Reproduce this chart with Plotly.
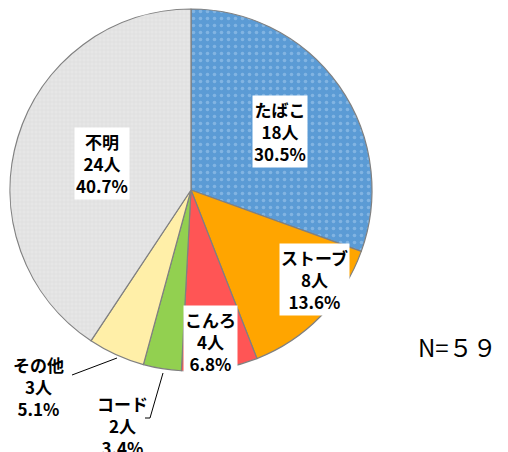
import plotly.graph_objects as go

categories = ["たばこ", "ストーブ", "こんろ", "コード", "その他", "不明"]
counts = [18, 8, 4, 2, 3, 24]
colors = ["#5B9BD5", "#FFA500", "#FF5555", "#92D050", "#FFEFA8", "#E6E6E6"]
total_label = "N=５９"

W, H = 508, 452
OFF = 8  # page body margin offset
total = sum(counts)
pcts = [c / total * 100 for c in counts]
texts = [f"{n}<br>{c}人<br>{p:.1f}%" for n, c, p in zip(categories, counts, pcts)]


def px(x):
    return (x - OFF) / W


def py(y):
    return 1 - (y - OFF) / H


fig = go.Figure(go.Pie(
    labels=categories,
    values=counts,
    sort=False,
    direction="clockwise",
    rotation=0,
    textinfo="none",
    hoverinfo="label+value+percent",
    marker=dict(
        colors=colors,
        line=dict(color="#808080", width=1.2),
        pattern=dict(
            shape=[".", "", "", "", "", "+"],
            fillmode="overlay",
            fgcolor=["#A9CDF0", "#FFA500", "#FF5555", "#92D050", "#FFEFA8", "#D4D4D4"],
            size=[7, 8, 8, 8, 8, 4],
            solidity=[0.2, 0.1, 0.1, 0.1, 0.1, 0.3],
        ),
    ),
    domain=dict(x=[2 / W, 364 / W], y=[(H - 363) / H, (H - 1) / H]),
    showlegend=False,
))

# label centers in reference pixels (measured)
label_pos = [(280, 132), (314, 279), (210, 341), (122, 425), (38, 386), (102, 163)]
inside = [True, True, True, False, False, True]
annotations = []
for t, (x, y), ins in zip(texts, label_pos, inside):
    annotations.append(dict(
        x=px(x), y=py(y), xref="paper", yref="paper",
        text=t, showarrow=False,
        font=dict(family="Noto Sans CJK JP", size=17, color="#000000", weight=600),
        bgcolor="#FFFFFF" if ins else "rgba(0,0,0,0)",
        borderpad=1,
        xanchor="center", yanchor="middle",
    ))
annotations.append(dict(
    x=px(416), y=py(346), xref="paper", yref="paper",
    text=total_label, showarrow=False,
    font=dict(family="Noto Sans CJK JP", size=24, color="#000000"),
    xanchor="left", yanchor="middle",
))

shapes = [
    dict(type="line", xref="paper", yref="paper",
         x0=px(72), y0=py(375), x1=px(117), y1=py(358),
         line=dict(color="#000000", width=1)),
    dict(type="path", xref="paper", yref="paper",
         path=f"M {px(145)},{py(418)} L {px(150)},{py(418)} L {px(163)},{py(373)}",
         line=dict(color="#000000", width=1)),
]

fig.update_layout(
    width=W, height=H,
    margin=dict(l=0, r=0, t=0, b=0),
    paper_bgcolor="#FFFFFF",
    plot_bgcolor="#FFFFFF",
    annotations=annotations,
    shapes=shapes,
)

fig.write_html("out.html")
